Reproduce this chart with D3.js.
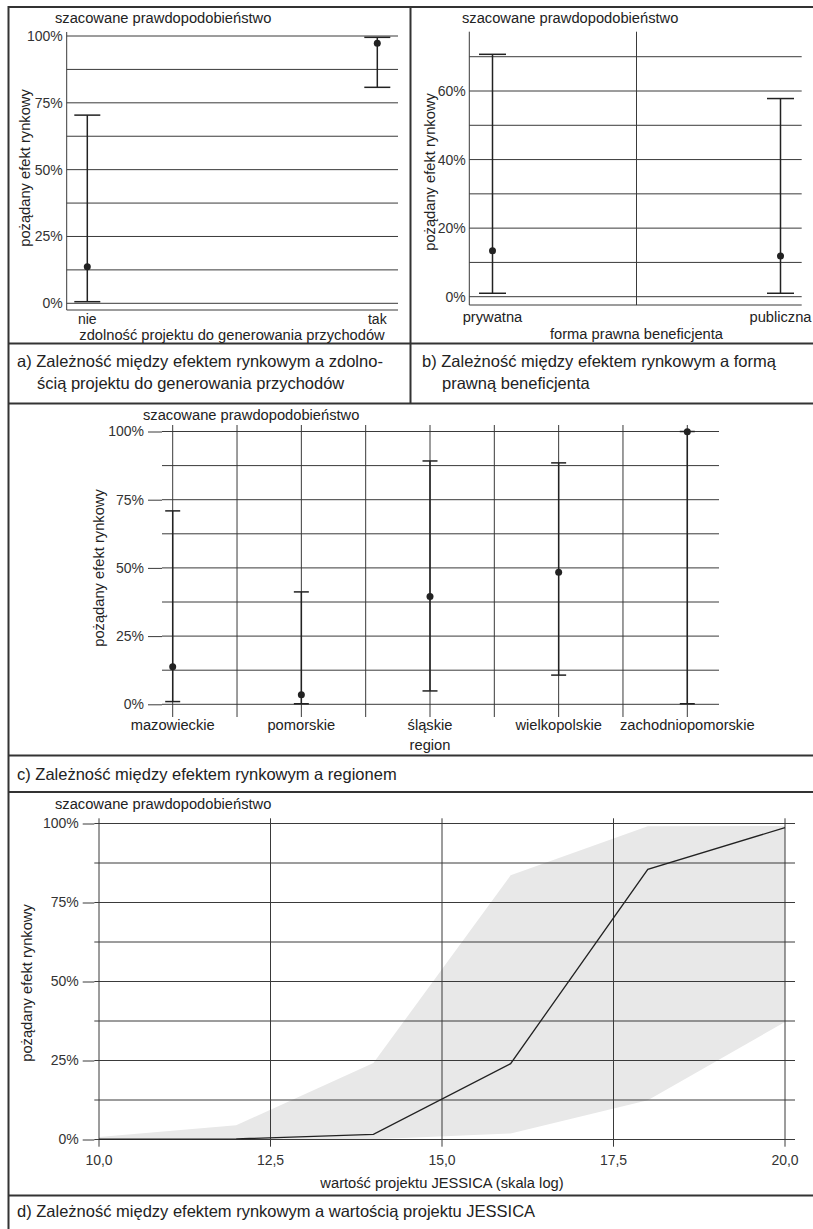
<!DOCTYPE html>
<html>
<head>
<meta charset="utf-8">
<script src="https://cdn.jsdelivr.net/npm/d3@7"></script>
<style>
  body { margin: 0; background: #fff; }
  svg text { font-family: "Liberation Sans", Arial, sans-serif; fill: #222; }
</style>
</head>
<body>
<div id="chart"></div>
<script>
// shared probability ticks
const pctTicks = [0, 0.25, 0.5, 0.75, 1];
const pctGrid = [0, 0.125, 0.25, 0.375, 0.5, 0.625, 0.75, 0.875, 1];

// a) revenue generating ability
const revenueCats = ['nie', 'tak'];
const revenueFit = [0.137, 0.973];
const revenueLower = [0.006, 0.808];
const revenueUpper = [0.704, 0.995];

// b) legal form
const formCats = ['prywatna', 'publiczna'];
const formFit = [0.134, 0.119];
const formLower = [0.010, 0.010];
const formUpper = [0.707, 0.578];
const formTicks = [0, 0.2, 0.4, 0.6];
const formGrid = [0, 0.1, 0.2, 0.3, 0.4, 0.5, 0.6, 0.7];

// c) region
const regionCats = ['mazowieckie', 'pomorskie', 'śląskie', 'wielkopolskie', 'zachodniopomorskie'];
const regionFit = [0.138, 0.035, 0.395, 0.484, 0.999];
const regionLower = [0.010, 0.002, 0.049, 0.107, 0.002];
const regionUpper = [0.709, 0.412, 0.892, 0.885, 1.0];

// d) project value (log)
const valueX = [10, 12, 14, 16, 18, 20];
const valueFit = [0.001, 0.002, 0.016, 0.240, 0.855, 0.987];
const valueLower = [0.0, 0.0, 0.001, 0.019, 0.124, 0.372];
const valueUpper = [0.008, 0.045, 0.242, 0.836, 0.991, 0.992];
const valueTicks = [10, 12.5, 15, 17.5, 20];

const TITLE = 'szacowane prawdopodobieństwo';
const YLABEL = 'pożądany efekt rynkowy';
const GRID = '#3a3a3a';
const INK = '#222';

const pct = d => Math.round(d * 100) + '%';

const svg = d3.select('#chart').append('svg')
  .attr('width', 813)
  .attr('height', 1229);

function hLines(g, values, y, x1, x2) {
  g.selectAll(null).data(values).enter().append('line')
    .attr('x1', x1).attr('x2', x2)
    .attr('y1', d => y(d)).attr('y2', d => y(d))
    .style('stroke', GRID).style('stroke-width', 1);
}

function vLines(g, values, x, y1, y2) {
  g.selectAll(null).data(values).enter().append('line')
    .attr('x1', d => x(d)).attr('x2', d => x(d))
    .attr('y1', y1).attr('y2', y2)
    .style('stroke', GRID).style('stroke-width', 1);
}

function yLabels(g, y, ticks, axisX, tickSize, pad, fmt) {
  let axis = g.append('g')
    .attr('transform', 'translate(' + axisX + ',0)')
    .call(d3.axisLeft(y).tickValues(ticks).tickFormat(fmt).tickSize(tickSize).tickPadding(pad));
  axis.select('.domain').remove();
  axis.selectAll('line').style('stroke', GRID);
  axis.selectAll('text')
    .attr('font-size', 14)
    .style('font-family', '"Liberation Sans", Arial, sans-serif')
    .style('fill', '#333');
}

function errorBars(g, x, y, cats, fit, lo, hi, cap, r) {
  let rows = cats.map((c, i) => ({ c: c, fit: fit[i], lo: lo[i], hi: hi[i] }));
  let bars = g.selectAll(null).data(rows).enter().append('g');
  bars.append('line')
    .attr('x1', d => x(d.c)).attr('x2', d => x(d.c))
    .attr('y1', d => y(d.lo)).attr('y2', d => y(d.hi))
    .style('stroke', INK).style('stroke-width', 1.5);
  bars.append('line')
    .attr('x1', d => x(d.c) - cap).attr('x2', d => x(d.c) + cap)
    .attr('y1', d => y(d.hi)).attr('y2', d => y(d.hi))
    .style('stroke', INK).style('stroke-width', 1.5);
  bars.append('line')
    .attr('x1', d => x(d.c) - cap).attr('x2', d => x(d.c) + cap)
    .attr('y1', d => y(d.lo)).attr('y2', d => y(d.lo))
    .style('stroke', INK).style('stroke-width', 1.5);
  bars.append('circle')
    .attr('cx', d => x(d.c)).attr('cy', d => y(d.fit))
    .attr('r', r).style('fill', INK);
}

function text(g, str, x, y, size, anchor) {
  return g.append('text')
    .attr('x', x).attr('y', y)
    .attr('font-size', size)
    .attr('text-anchor', anchor || 'start')
    .text(str);
}

function yTitle(g, x, cy) {
  g.append('text')
    .attr('transform', 'translate(' + x + ',' + cy + ') rotate(-90)')
    .attr('font-size', 14.7)
    .attr('text-anchor', 'middle')
    .text(YLABEL);
}

// ---------- frame ----------
let frame = svg.append('g').style('stroke', '#333').style('stroke-width', 2).style('fill', 'none');
frame.append('rect').attr('x', 8.5).attr('y', 7).attr('width', 810).attr('height', 1230);
[343.5, 403.5, 755.5, 792, 1195.5].forEach(yy => {
  frame.append('line').attr('x1', 8).attr('x2', 813).attr('y1', yy).attr('y2', yy);
});
frame.append('line').attr('x1', 410.5).attr('x2', 410.5).attr('y1', 7).attr('y2', 403.5);

// ---------- panel a ----------
{
  let g = svg.append('g');
  let x = d3.scalePoint().domain(revenueCats).range([87.3, 377.3]);
  let y = d3.scaleLinear().domain([0, 1]).range([303.3, 36]);
  hLines(g, pctGrid, y, 66.7, 398);
  g.append('line').attr('x1', 66.7).attr('x2', 66.7).attr('y1', 32).attr('y2', 310).style('stroke', GRID);
  g.append('line').attr('x1', 66.7).attr('x2', 398).attr('y1', 310).attr('y2', 310).style('stroke', GRID);
  yLabels(g, y, pctTicks, 66.7, 0, 4, pct);
  errorBars(g, x, y, revenueCats, revenueFit, revenueLower, revenueUpper, 13, 3.5);
  revenueCats.forEach(c => text(g, c, x(c), 323.5, 14, 'middle'));
  text(g, 'zdolność projektu do generowania przychodów', 232, 340, 14.7, 'middle');
  text(g, TITLE, 55, 23, 14.7);
  yTitle(g, 30, 168);
  text(g, 'a) Zależność między efektem rynkowym a zdolno-', 17, 367, 16.5);
  text(g, 'ścią projektu do generowania przychodów', 37, 388.5, 16.5);
}

// ---------- panel b ----------
{
  let g = svg.append('g');
  let x = d3.scalePoint().domain(formCats).range([492.5, 780.5]);
  let y = d3.scaleLinear().domain([0, 0.6]).range([296.7, 91]);
  hLines(g, formGrid, y, 469.3, 801.7);
  let mid = (x(formCats[0]) + x(formCats[1])) / 2;
  g.append('line').attr('x1', mid).attr('x2', mid).attr('y1', 31.7).attr('y2', 305).style('stroke', GRID);
  g.append('line').attr('x1', 469.3).attr('x2', 469.3).attr('y1', 31.7).attr('y2', 305).style('stroke', GRID);
  g.append('line').attr('x1', 469.3).attr('x2', 801.7).attr('y1', 305).attr('y2', 305).style('stroke', GRID);
  yLabels(g, y, formTicks, 469.3, 0, 3.5, pct);
  errorBars(g, x, y, formCats, formFit, formLower, formUpper, 13.5, 3.5);
  formCats.forEach(c => text(g, c, x(c), 322, 14.7, 'middle'));
  text(g, 'forma prawna beneficjenta', mid, 338.5, 14.7, 'middle');
  text(g, TITLE, 462, 23, 14.7);
  yTitle(g, 435, 172);
  text(g, 'b) Zależność między efektem rynkowym a formą', 422, 367, 16.5);
  text(g, 'prawną beneficjenta', 442, 388.5, 16.5);
}

// ---------- panel c ----------
{
  let g = svg.append('g');
  let x = d3.scalePoint().domain(regionCats).range([172.7, 687.3]);
  let y = d3.scaleLinear().domain([0, 1]).range([704.3, 431.5]);
  hLines(g, pctGrid, y, 162, 719);
  yLabels(g, y, pctTicks, 162, 14, 4, pct);
  let step = x.step();
  let vx = [];
  regionCats.forEach((c, i) => {
    vx.push(x(c));
    if (i < regionCats.length - 1) vx.push(x(c) + step / 2);
  });
  vLines(g, vx, d => d, 425, 717);
  errorBars(g, x, y, regionCats, regionFit, regionLower, regionUpper, 7.5, 3.5);
  regionCats.forEach(c => text(g, c, x(c), 729.5, 14.7, 'middle'));
  text(g, 'region', (x.range()[0] + x.range()[1]) / 2, 749.5, 14.7, 'middle');
  text(g, TITLE, 143, 420, 14.7);
  yTitle(g, 104, 568);
  text(g, 'c) Zależność między efektem rynkowym a regionem', 17, 779.5, 16.5);
}

// ---------- panel d ----------
{
  let g = svg.append('g');
  let x = d3.scaleLinear().domain([10, 20]).range([99, 785]);
  let y = d3.scaleLinear().domain([0, 1]).range([1139.5, 823.5]);
  let rows = valueX.map((v, i) => ({ v: v, fit: valueFit[i], lo: valueLower[i], hi: valueUpper[i] }));
  g.append('path').datum(rows)
    .attr('d', d3.area().x(d => x(d.v)).y0(d => y(d.lo)).y1(d => y(d.hi)))
    .style('fill', '#e8e8e8');
  hLines(g, pctGrid, y, 94.3, 795);
  yLabels(g, y, pctTicks, 94.3, 11.6, 4, pct);
  vLines(g, valueTicks, x, 818.3, 1146.7);
  g.append('path').datum(rows)
    .attr('d', d3.line().x(d => x(d.v)).y(d => y(d.fit)))
    .style('fill', 'none').style('stroke', INK).style('stroke-width', 1.3);
  let fmt = d3.format('.1f');
  valueTicks.forEach(v => text(g, fmt(v).replace('.', ','), x(v), 1165, 14, 'middle').style('fill', '#333'));
  text(g, 'wartość projektu JESSICA (skala log)', x(15), 1188, 14.7, 'middle');
  text(g, TITLE, 55, 809, 14.7);
  yTitle(g, 32, 983);
  text(g, 'd) Zależność między efektem rynkowym a wartością projektu JESSICA', 17, 1217, 16.5);
}
</script>
</body>
</html>
